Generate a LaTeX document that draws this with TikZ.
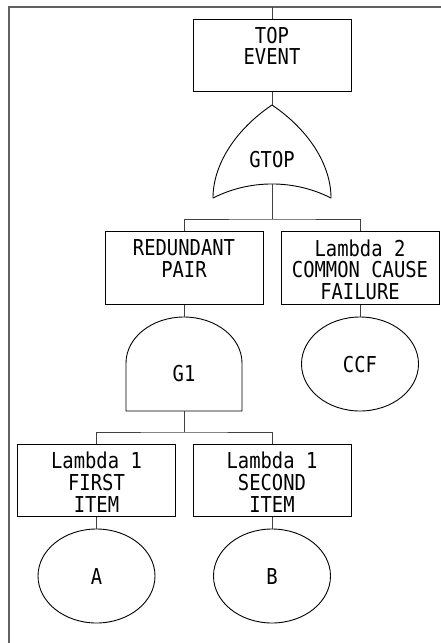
\documentclass[tikz,border=0pt]{standalone}
\usepackage{fontspec}
\usetikzlibrary{shapes.geometric}
\newfontfamily\cadfont[FakeStretch=0.86]{DejaVu Sans Mono}
\begin{document}
\begin{tikzpicture}[x=1pt,y=-1pt,
  frameline/.style={draw=black!62, line width=1.8pt},
  conn/.style={draw=black!75, line width=0.9pt},
  outl/.style={draw=black, line width=0.9pt},
  evbox/.style={outl, rectangle, minimum width=158pt, minimum height=72.5pt, inner sep=0pt},
  basic/.style={outl, ellipse, minimum width=117pt, minimum height=94pt, inner sep=0pt},
  txt/.style={font=\cadfont\fontsize{21.9}{21.7}\selectfont, align=center, inner sep=0pt}]
\useasboundingbox (0,0) rectangle (441,643);

% frame
\coordinate (fr) at (441,6.7);
\coordinate (fc) at (9,6.7);
\coordinate (fb) at (9,643);
\coordinate (ft) at (272,6.7);
\draw[frameline] (fr) -- (fc) -- (fb);

% boxes
\node[evbox] (top) at (272,55.5) {};
\node[evbox] (red) at (184,268) {};
\node[evbox] (ccfbox) at (360,268) {};
\node[evbox] (first) at (96.5,480.5) {};
\node[evbox] (second) at (272,480.5) {};

\node[txt, anchor=north] (toptxt) at (272,26.7) {TOP\\EVENT};
\node[txt, anchor=north] (redtxt) at (184,239.7) {REDUNDANT\\PAIR};
\node[txt, anchor=north] (ccfboxtxt) at (360,239.4) {Lambda 2\\COMMON CAUSE\\FAILURE};
\node[txt, anchor=north] (firsttxt) at (96.5,452) {Lambda 1\\FIRST\\ITEM};
\node[txt, anchor=north] (secondtxt) at (272,452) {Lambda 1\\SECOND\\ITEM};

% OR gate GTOP
\coordinate (gtopin) at (272,105);
\coordinate (gtopout) at (272,184);
\draw[outl, line join=round] (272,105) .. controls (235,130) and (213,165) .. (213,198)
  .. controls (250,179.3) and (294,179.3) .. (331,198)
  .. controls (331,165) and (309,130) .. (272,105);
\node[txt] (gtop) at (272,160) {GTOP};

% AND gate G1
\coordinate (g1in) at (184,317);
\coordinate (g1out) at (184,411);
\draw[outl] (126,411) -- (126,363) arc[start angle=180, end angle=0, x radius=58pt, y radius=46pt] -- (242,411) -- cycle;
\node[txt] (g1) at (184,374) {G1};

% basic events
\node[basic] (ccf) at (360,364) {};
\node[txt] (ccftxt) at (360,365) {CCF};
\node[basic] (a) at (96.5,576) {};
\node[txt] (atxt) at (96.5,576.5) {A};
\node[basic] (b) at (272,576) {};
\node[txt] (btxt) at (272,576.5) {B};

% connectors
\coordinate (bar1) at (272,219);
\coordinate (bar2) at (184,432);
\draw[conn] (ft) -- (top.north);
\draw[conn] (top.south) -- (gtopin);
\draw[conn] (gtopout) -- (bar1);
\draw[conn] (red.north) |- (bar1) -| (ccfbox.north);
\draw[conn] (red.south) -- (g1in);
\draw[conn] (ccfbox.south) -- (ccf.north);
\draw[conn] (g1out) -- (bar2);
\draw[conn] (first.north) |- (bar2) -| (second.north);
\draw[conn] (first.south) -- (a.north);
\draw[conn] (second.south) -- (b.north);
\end{tikzpicture}
\end{document}
